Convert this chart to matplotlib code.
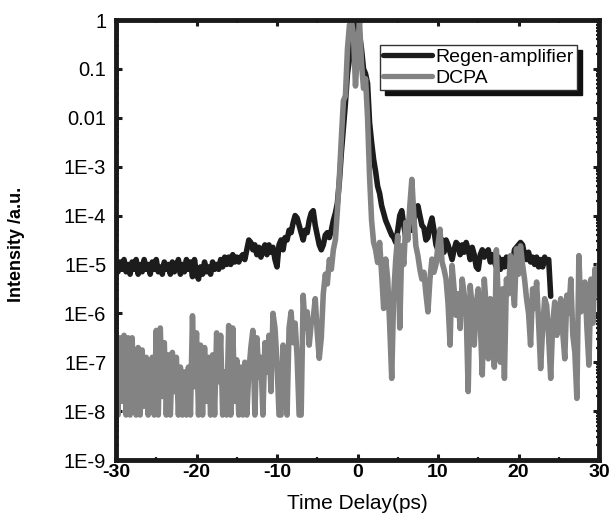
import numpy as np
import matplotlib
matplotlib.use("Agg")
import matplotlib.pyplot as plt
from matplotlib.ticker import FixedLocator, LogLocator, NullFormatter, MultipleLocator

# ---------------- data (log10 of intensity, sampled every 0.25 ps) ----------------
regen_label = "Regen-amplifier"
dcpa_label = "DCPA"
t_start = -30.0
t_step = 0.25

# Regen-amplifier, t = -30 ... 24 ps
regen_log10 = [
    -5.0, -5.15, -4.95, -5.1,    # -30
    -4.9, -5.15, -5.0, -5.2,     # -29
    -4.95, -5.1, -4.9, -5.2,     # -28
    -5.0, -5.15, -4.9, -5.1,     # -27
    -5.0, -5.2, -4.95, -5.1,     # -26
    -4.9, -5.15, -5.05, -5.2,    # -25
    -4.95, -5.1, -5.0, -5.2,     # -24
    -4.95, -5.15, -5.05, -4.9,   # -23
    -5.2, -5.0, -5.15, -4.9,     # -22
    -5.1, -4.95, -5.25, -4.9,    # -21
    -5.2, -5.3, -5.05, -5.2,     # -20
    -4.95, -5.15, -5.05, -5.2,   # -19
    -4.95, -5.1, -5.0, -5.1,     # -18
    -4.9, -5.05, -4.85, -5.0,    # -17
    -4.85, -5.0, -4.8, -4.95,    # -16
    -4.85, -4.95, -4.85, -4.8,   # -15
    -4.9, -4.7, -4.5, -4.55,     # -14
    -4.7, -4.6, -4.8, -4.65,     # -13
    -4.85, -4.7, -4.6, -4.8,     # -12
    -4.6, -4.75, -4.65, -4.9,    # -11
    -5.05, -4.6, -4.5, -4.7,     # -10
    -4.45, -4.5, -4.3, -4.35,    # -9
    -4.15, -4.0, -4.05, -4.2,    # -8
    -4.35, -4.5, -4.3, -4.35,    # -7
    -4.1, -3.95, -3.9, -4.2,     # -6
    -4.4, -4.6, -4.7, -4.6,      # -5
    -4.4, -4.35, -4.45, -4.3,    # -4
    -4.1, -3.95, -3.75, -3.3,    # -3
    -2.7, -2.2, -1.7, -1.1,      # -2
    -0.8, -0.55, -0.35, -0.15,   # -1
    0.0, -0.3, -0.6, -1.0,       # 0
    -1.1, -1.3, -2.1, -2.5,      # 1
    -2.85, -3.1, -3.4, -3.55,    # 2
    -3.8, -3.95, -4.1, -4.2,     # 3
    -4.3, -4.4, -4.45, -4.55,    # 4
    -4.3, -4.0, -3.9, -4.2,      # 5
    -4.45, -4.3, -4.15, -4.3,    # 6
    -4.1, -3.9, -3.8, -4.0,      # 7
    -4.2, -4.25, -4.5, -4.45,    # 8
    -4.2, -4.05, -4.3, -4.6,     # 9
    -4.7, -4.45, -4.5, -4.75,    # 10
    -4.5, -4.6, -4.75, -4.9,     # 11
    -4.7, -4.55, -4.6, -4.8,     # 12
    -4.6, -4.75, -4.55, -4.7,    # 13
    -4.9, -4.65, -4.8, -5.05,    # 14
    -5.1, -4.8, -4.7, -4.85,     # 15
    -4.75, -4.7, -4.95, -4.8,    # 16
    -4.95, -5.05, -4.85, -5.1,   # 17
    -4.9, -5.05, -4.85, -5.05,   # 18
    -4.9, -5.0, -4.7, -4.65,     # 19
    -4.6, -4.55, -4.6, -4.8,     # 20
    -4.9, -4.75, -4.95, -4.85,   # 21
    -5.0, -4.85, -5.05, -4.9,    # 22
    -5.05, -4.85, -4.95, -4.9,   # 23
    -5.65,                       # 24
]

# DCPA, t = -30 ... 30 ps
dcpa_log10 = [
    -6.6, -8.08, -6.5, -7.8,     # -30
    -6.45, -8.08, -6.5, -8.08,   # -29
    -6.5, -7.6, -8.08, -6.7,     # -28
    -8.08, -6.75, -7.9, -6.9,    # -27
    -8.08, -7.3, -6.9, -8.08,    # -26
    -6.35, -8.08, -6.3, -7.7,    # -25
    -6.6, -8.08, -6.85, -8.08,   # -24
    -6.8, -7.6, -6.9, -8.08,     # -23
    -7.1, -8.08, -7.2, -8.08,    # -22
    -7.1, -8.08, -6.05, -7.5,    # -21
    -6.4, -8.08, -6.65, -8.08,   # -20
    -6.7, -7.8, -6.9, -8.08,     # -19
    -6.85, -8.08, -6.4, -7.4,    # -18
    -6.45, -8.08, -7.2, -8.08,   # -17
    -6.25, -8.08, -6.3, -7.8,    # -16
    -6.95, -8.08, -7.1, -8.08,   # -15
    -7.0, -8.08, -7.2, -6.7,     # -14
    -6.35, -8.08, -6.5, -7.3,    # -13
    -6.9, -8.08, -6.6, -7.2,     # -12
    -6.45, -7.6, -6.0, -6.3,     # -11
    -7.0, -8.08, -8.08, -6.65,   # -10
    -7.2, -8.08, -6.3, -5.97,    # -9
    -6.6, -6.2, -6.9, -8.08,     # -8
    -8.08, -5.63, -6.3, -5.97,   # -7
    -6.65, -6.2, -6.1, -5.7,     # -6
    -6.4, -6.92, -6.5, -5.6,     # -5
    -5.2, -5.4, -4.9, -5.1,      # -4
    -4.7, -4.5, -3.9, -3.2,      # -3
    -2.4, -1.65, -1.55, -0.6,    # -2
    -0.1, -0.03, -0.3, -1.35,    # -1
    -0.6, -0.03, -0.9, -1.4,     # 0
    -1.2, -2.0, -3.2, -4.1,      # 1
    -4.55, -4.7, -4.96, -4.55,   # 2
    -5.2, -5.9, -4.89, -5.3,     # 3
    -6.25, -7.33, -5.6, -4.9,    # 4
    -4.41, -6.3, -4.62, -5.0,    # 5
    -4.14, -4.5, -3.8, -3.26,    # 6
    -4.0, -4.62, -4.82, -5.1,    # 7
    -5.3, -5.16, -5.6, -5.97,    # 8
    -5.3, -4.89, -5.16, -5.0,    # 9
    -4.6, -4.28, -4.95, -5.1,    # 10
    -5.3, -5.8, -6.65, -5.02,    # 11
    -5.5, -6.04, -5.6, -6.31,    # 12
    -5.3, -5.6, -5.97, -7.6,     # 13
    -5.43, -5.9, -6.65, -5.8,    # 14
    -5.5, -6.2, -7.26, -5.3,     # 15
    -5.9, -6.93, -5.7, -6.2,     # 16
    -7.1, -4.7, -5.8, -7.0,      # 17
    -5.5, -7.33, -5.3, -5.6,     # 18
    -4.82, -5.4, -5.84, -4.68,   # 19
    -5.2, -4.62, -5.0, -5.3,     # 20
    -5.7, -6.0, -6.65, -5.5,     # 21
    -5.9, -5.36, -6.2, -7.13,    # 22
    -6.31, -5.7, -5.84, -6.5,    # 23
    -7.33, -6.2, -5.77, -6.45,   # 24
    -6.1, -5.7, -6.4, -6.93,     # 25
    -5.63, -6.0, -5.3, -6.45,    # 26
    -6.8, -7.74, -4.82, -5.97,   # 27
    -5.7, -5.36, -6.3, -7.06,    # 28
    -5.3, -6.2, -5.09, -5.6,     # 29
    -5.0,                        # 30
]

x_ticks = [-30, -20, -10, 0, 10, 20, 30]
y_ticks = [1, 0.1, 0.01, 1e-3, 1e-4, 1e-5, 1e-6, 1e-7, 1e-8, 1e-9]
y_tick_labels = ["1", "0.1", "0.01", "1E-3", "1E-4", "1E-5", "1E-6", "1E-7", "1E-8", "1E-9"]
x_label = "Time Delay(ps)"
y_label = "Intensity /a.u."

regen_t = t_start + t_step * np.arange(len(regen_log10))
regen_y = 10.0 ** np.array(regen_log10)
dcpa_t = t_start + t_step * np.arange(len(dcpa_log10))
dcpa_y = 10.0 ** np.array(dcpa_log10)

# ---------------- figure ----------------
plt.rcParams["font.family"] = ["Liberation Sans", "DejaVu Sans"]
fig = plt.figure(figsize=(6.11, 5.13), dpi=100)
ax = fig.add_axes([116 / 611, 1 - 460 / 513, (599 - 116) / 611, (460 - 20) / 513])

black = "#1c1c1c"
grey = "#838383"
lw = 4.0
ax.plot(regen_t, regen_y, color=black, lw=lw, label=regen_label,
        solid_joinstyle="round", solid_capstyle="round", zorder=2)
ax.plot(dcpa_t, dcpa_y, color=grey, lw=lw, label=dcpa_label,
        solid_joinstyle="round", solid_capstyle="round", zorder=3)

ax.set_yscale("log")
ax.set_xlim(-30, 30)
ax.set_ylim(1e-9, 1)

ax.xaxis.set_major_locator(FixedLocator(x_ticks))
ax.xaxis.set_minor_locator(MultipleLocator(5))
ax.set_xticklabels([str(v) for v in x_ticks], fontsize=14, fontweight="bold")
ax.yaxis.set_major_locator(FixedLocator(y_ticks))
ax.set_yticklabels(y_tick_labels, fontsize=14.5)
ax.yaxis.set_minor_locator(LogLocator(base=10, subs=np.arange(2, 10), numticks=30))
ax.yaxis.set_minor_formatter(NullFormatter())

for s in ax.spines.values():
    s.set_linewidth(3.5)
    s.set_color("#1a1a1a")
    s.set_zorder(4)

ax.tick_params(axis="both", which="both", direction="in", top=True, right=True,
               color="#1a1a1a")
ax.tick_params(axis="both", which="major", length=4, width=2.2)
ax.tick_params(axis="both", which="minor", length=2.5, width=1.6)
ax.tick_params(axis="x", which="major", pad=3)
ax.tick_params(axis="y", which="major", pad=7)

ax.set_xlabel(x_label, fontsize=15)
ax.xaxis.set_label_coords(0.499, -0.098)
ax.xaxis.label.set_va("center")
ax.set_ylabel(y_label, fontsize=13, fontweight="bold")
ax.yaxis.set_label_coords(-0.207, 0.489)
ax.yaxis.label.set_va("center")

leg = ax.legend(loc="upper left", bbox_to_anchor=((380 - 116) / 483, 1 - (45 - 20) / 440),
                borderaxespad=0, fancybox=False, frameon=True, fontsize=14,
                handlelength=2.5, handletextpad=0.2, borderpad=0.15,
                labelspacing=0.2,
                shadow={"ox": 3.5, "oy": -3.5, "facecolor": "#111111",
                        "edgecolor": "#111111", "alpha": 1})
leg.get_frame().set_edgecolor("#333333")
leg.get_frame().set_linewidth(1.0)
for line in leg.get_lines():
    line.set_linewidth(3.8)

fig.savefig("out.png", dpi=100)
